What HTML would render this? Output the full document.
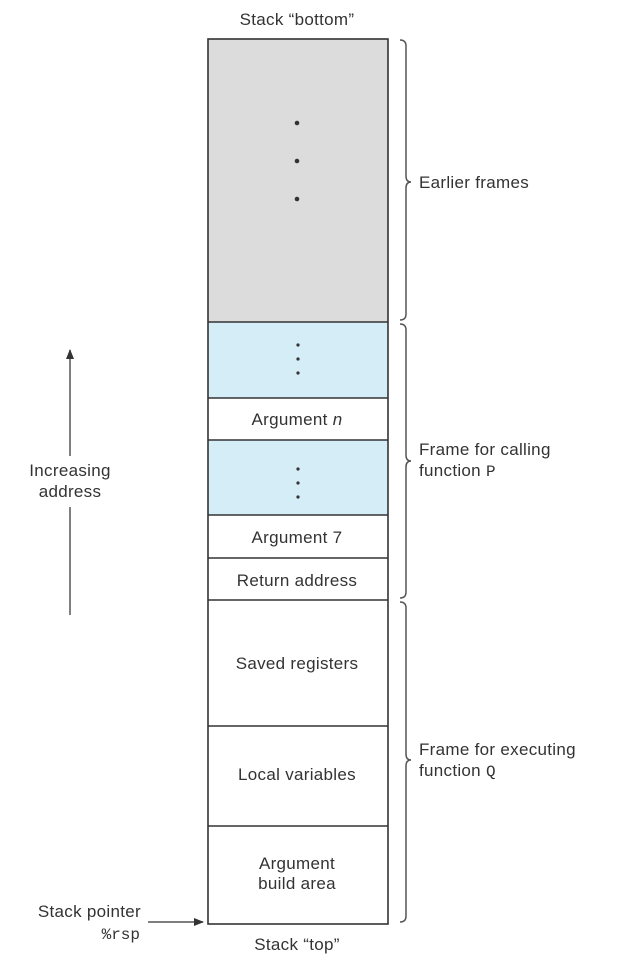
<!DOCTYPE html>
<html><head><style>body{margin:0;background:#fff}svg{display:block}text{font-family:"Liberation Sans",sans-serif;font-size:17px;letter-spacing:0.3px;fill:#333}.m{font-family:"Liberation Mono",monospace;font-size:16px;letter-spacing:0}</style></head><body>
<svg width="619" height="980" viewBox="0 0 619 980">
<defs><marker id="a" markerWidth="10" markerHeight="8" refX="9" refY="4" orient="auto" markerUnits="userSpaceOnUse"><path d="M0,0 L10,4 L0,8 z" fill="#333"/></marker></defs>
<text x="297" y="25" text-anchor="middle">Stack “bottom”</text>
<rect x="208" y="39" width="180" height="283" fill="#dcdcdc"/>
<rect x="208" y="322" width="180" height="76" fill="#d5edf7"/>
<rect x="208" y="440" width="180" height="75" fill="#d5edf7"/>
<g stroke="#333" stroke-width="1.6" fill="none">
<rect x="208" y="39" width="180" height="885"/>
<line x1="208" y1="322" x2="388" y2="322"/><line x1="208" y1="398" x2="388" y2="398"/><line x1="208" y1="440" x2="388" y2="440"/><line x1="208" y1="515" x2="388" y2="515"/><line x1="208" y1="558" x2="388" y2="558"/><line x1="208" y1="600" x2="388" y2="600"/><line x1="208" y1="726" x2="388" y2="726"/><line x1="208" y1="826" x2="388" y2="826"/>
</g>
<g fill="#333"><circle cx="297" cy="123" r="2.3"/><circle cx="297" cy="161" r="2.3"/><circle cx="297" cy="199" r="2.3"/>
<circle cx="298" cy="345" r="1.6"/><circle cx="298" cy="359" r="1.6"/><circle cx="298" cy="373" r="1.6"/>
<circle cx="298" cy="469" r="1.6"/><circle cx="298" cy="483" r="1.6"/><circle cx="298" cy="497" r="1.6"/></g>
<g text-anchor="middle"><text x="297" y="425">Argument <tspan font-style="italic">n</tspan></text><text x="297" y="543">Argument 7</text><text x="297" y="586">Return address</text><text x="297" y="669">Saved registers</text><text x="297" y="780">Local variables</text><text x="297" y="869">Argument</text><text x="297" y="889">build area</text><text x="297" y="950">Stack “top”</text></g>
<g stroke="#555" stroke-width="1.5" fill="none">
<path d="M400,40 Q406,40 406,46 L406,176 Q406,182 411,182 Q406,182 406,188 L406,314 Q406,320 400,320"/>
<path d="M400,324 Q406,324 406,330 L406,455 Q406,461 411,461 Q406,461 406,467 L406,592 Q406,598 400,598"/>
<path d="M400,602 Q406,602 406,608 L406,754 Q406,760 411,760 Q406,760 406,766 L406,916 Q406,922 400,922"/>
</g>
<text x="419" y="188">Earlier frames</text>
<text x="419" y="455">Frame for calling</text><text x="419" y="476">function <tspan class="m">P</tspan></text>
<text x="419" y="755">Frame for executing</text><text x="419" y="776">function <tspan class="m">Q</tspan></text>
<g stroke="#555" stroke-width="1.5"><line x1="70" y1="615" x2="70" y2="507"/><line x1="70" y1="456" x2="70" y2="350" marker-end="url(#a)"/><line x1="148" y1="922" x2="203" y2="922" marker-end="url(#a)"/></g>
<text x="70" y="476" text-anchor="middle">Increasing</text><text x="70" y="497" text-anchor="middle">address</text>
<text x="141" y="917" text-anchor="end">Stack pointer</text><text x="140" y="939" text-anchor="end" class="m">%rsp</text>
</svg></body></html>
